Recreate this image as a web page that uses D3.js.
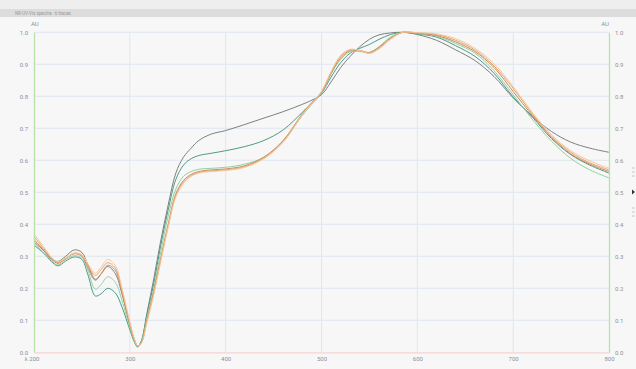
<!DOCTYPE html>
<html>
<head>
<meta charset="utf-8">
<script src="https://cdn.jsdelivr.net/npm/d3@7"></script>
<style>
  html, body { margin: 0; padding: 0; background: #f7f7f7; }
  svg { display: block; font-family: Roboto, "Open Sans", sans-serif; }
</style>
</head>
<body>
<svg id="chart" width="636" height="369"></svg>
<script>
// Wavelength grid (nm) shared by all spectra
const wavelengths = [200, 210, 218, 225, 233, 242, 250, 256, 264, 270, 277, 285, 292, 300, 305, 308, 312, 318, 325, 332, 340, 348, 356, 364, 372, 385, 400, 420, 440, 460, 480, 490, 500, 510, 520, 530, 540, 550, 560, 572, 585, 600, 620, 640, 660, 680, 700, 720, 740, 760, 780, 800];

// Normalised absorbance (AU) of each spectrum on that grid
const spectrumA = [0.345, 0.318, 0.292, 0.284, 0.300, 0.320, 0.312, 0.275, 0.228, 0.245, 0.268, 0.245, 0.180, 0.085, 0.035, 0.018, 0.035, 0.125, 0.230, 0.345, 0.460, 0.560, 0.610, 0.638, 0.662, 0.682, 0.693, 0.712, 0.732, 0.752, 0.775, 0.788, 0.805, 0.845, 0.890, 0.925, 0.955, 0.978, 0.992, 0.998, 1.000, 0.993, 0.975, 0.945, 0.912, 0.862, 0.795, 0.738, 0.690, 0.657, 0.638, 0.625];
const spectrumB = [0.335, 0.310, 0.284, 0.270, 0.285, 0.298, 0.290, 0.245, 0.176, 0.183, 0.200, 0.185, 0.140, 0.070, 0.030, 0.017, 0.035, 0.120, 0.215, 0.330, 0.445, 0.540, 0.585, 0.605, 0.615, 0.622, 0.630, 0.643, 0.662, 0.695, 0.750, 0.780, 0.810, 0.860, 0.905, 0.935, 0.950, 0.962, 0.978, 0.993, 1.000, 0.995, 0.985, 0.958, 0.925, 0.872, 0.798, 0.735, 0.668, 0.618, 0.585, 0.560];
const spectrumC = [0.340, 0.312, 0.287, 0.273, 0.290, 0.302, 0.294, 0.258, 0.197, 0.212, 0.236, 0.218, 0.160, 0.078, 0.033, 0.018, 0.032, 0.110, 0.200, 0.310, 0.425, 0.510, 0.550, 0.565, 0.572, 0.575, 0.578, 0.588, 0.610, 0.660, 0.740, 0.775, 0.810, 0.870, 0.915, 0.940, 0.940, 0.937, 0.955, 0.985, 1.000, 0.996, 0.988, 0.965, 0.935, 0.880, 0.805, 0.728, 0.660, 0.606, 0.570, 0.545];
const spectrumD = [0.362, 0.325, 0.295, 0.280, 0.293, 0.310, 0.303, 0.272, 0.240, 0.258, 0.280, 0.262, 0.190, 0.090, 0.038, 0.020, 0.030, 0.100, 0.185, 0.285, 0.395, 0.490, 0.532, 0.552, 0.562, 0.567, 0.570, 0.580, 0.608, 0.660, 0.745, 0.780, 0.815, 0.875, 0.925, 0.945, 0.942, 0.935, 0.950, 0.980, 1.000, 0.998, 0.993, 0.975, 0.945, 0.895, 0.825, 0.745, 0.675, 0.625, 0.592, 0.570];
const spectrumE = [0.370, 0.330, 0.298, 0.283, 0.295, 0.310, 0.305, 0.278, 0.247, 0.266, 0.290, 0.270, 0.198, 0.095, 0.040, 0.021, 0.028, 0.095, 0.180, 0.280, 0.390, 0.485, 0.528, 0.550, 0.560, 0.565, 0.568, 0.578, 0.605, 0.656, 0.742, 0.778, 0.815, 0.877, 0.928, 0.947, 0.943, 0.934, 0.948, 0.978, 1.000, 0.999, 0.995, 0.980, 0.950, 0.902, 0.830, 0.750, 0.680, 0.630, 0.598, 0.575];
const spectrumF = [0.352, 0.320, 0.292, 0.278, 0.293, 0.308, 0.300, 0.265, 0.225, 0.245, 0.272, 0.255, 0.185, 0.088, 0.037, 0.019, 0.030, 0.102, 0.190, 0.290, 0.400, 0.495, 0.537, 0.556, 0.565, 0.570, 0.573, 0.583, 0.610, 0.662, 0.745, 0.780, 0.812, 0.872, 0.920, 0.943, 0.943, 0.937, 0.953, 0.982, 1.000, 0.997, 0.990, 0.970, 0.940, 0.890, 0.815, 0.740, 0.672, 0.620, 0.588, 0.565];

const spectra = [spectrumA, spectrumB, spectrumC, spectrumF, spectrumD, spectrumE];
const spectrumColors = ["#7b817f", "#4f9985", "#8fd2a2", "#c98a5e", "#eba262", "#f4c6a0"];

// Axis ticks
const xTicks = [200, 300, 400, 500, 600, 700, 800];
const yTicks = [0, 0.1, 0.2, 0.3, 0.4, 0.5, 0.6, 0.7, 0.8, 0.9, 1.0];
const unitLabel = "AU";
const headerText = "NR UV-Vis spectra · 6 traces";

const W = 636, H = 369;
const plot = { left: 34, right: 609, top: 32.3, bottom: 352.3 };

const svg = d3.select("#chart");

// page background and header strip
svg.append("rect").attr("width", W).attr("height", H).attr("fill", "#f7f7f7");
svg.append("rect").attr("x", 0).attr("y", 0).attr("width", W).attr("height", 9).attr("fill", "#eeeeee");
svg.append("rect").attr("x", 0).attr("y", 9).attr("width", W).attr("height", 8).attr("fill", "#dcdcdc");
svg.append("text").attr("x", 15).attr("y", 14.5).attr("font-size", 4.5).attr("fill", "#9a9a9a")
  .text(headerText);

const x = d3.scaleLinear().domain([200, 800]).range([plot.left, plot.right]);
const y = d3.scaleLinear().domain([0, 1]).range([plot.bottom, plot.top]);

// grid
const grid = svg.append("g");
grid.selectAll("line.v").data(xTicks.slice(1, -1)).join("line")
  .attr("x1", d => x(d)).attr("x2", d => x(d))
  .attr("y1", plot.top).attr("y2", plot.bottom)
  .attr("stroke", "#dfe7ee").attr("stroke-width", 1);
grid.selectAll("line.h").data(yTicks.slice(1)).join("line")
  .attr("x1", plot.left).attr("x2", plot.right)
  .attr("y1", d => y(d)).attr("y2", d => y(d))
  .attr("stroke", "#dfe7ee").attr("stroke-width", 1);

// spectra
const line = d3.line()
  .x((d, i) => x(wavelengths[i]))
  .y(d => y(d))
  .curve(d3.curveCatmullRom.alpha(0.5));

svg.append("g").selectAll("path").data(spectra).join("path")
  .attr("d", line)
  .attr("fill", "none")
  .attr("stroke", (d, i) => spectrumColors[i])
  .attr("stroke-width", 1);

// axes
const fmt = d3.format(".1f");
const tickText = { fill: "#8a9099", size: 6 };

const leftAxis = svg.append("g").attr("transform", `translate(${plot.left},0)`)
  .call(d3.axisLeft(y).tickValues(yTicks).tickFormat(fmt).tickSize(0).tickPadding(6));
const rightAxis = svg.append("g").attr("transform", `translate(${plot.right},0)`)
  .call(d3.axisRight(y).tickValues(yTicks).tickFormat(fmt).tickSize(0).tickPadding(6));
const bottomAxis = svg.append("g").attr("transform", `translate(0,${plot.bottom})`)
  .call(d3.axisBottom(x).tickValues(xTicks).tickFormat(d => d === 200 ? "λ 200" : d).tickSize(0).tickPadding(4));

[leftAxis, rightAxis].forEach(g => g.select(".domain").attr("stroke", "#b9e2a8").attr("stroke-width", 1.3));
bottomAxis.select(".domain").attr("stroke", "#f6d4d4").attr("stroke-width", 1.3);
[leftAxis, rightAxis, bottomAxis].forEach(g => g.selectAll("text")
  .attr("fill", tickText.fill).attr("font-size", tickText.size).attr("font-family", "Roboto, sans-serif"));
bottomAxis.selectAll(".tick").filter(d => d === 200).select("text").attr("dx", -2.5);

// unit labels
svg.append("text").attr("x", plot.left - 3).attr("y", 26).attr("font-size", 6).attr("fill", tickText.fill).text(unitLabel);
svg.append("text").attr("x", plot.right).attr("y", 26).attr("text-anchor", "end").attr("font-size", 6).attr("fill", tickText.fill).text(unitLabel);

// collapsed side panel handle
const handle = svg.append("g").attr("transform", "translate(633,0)");
[168, 172, 176, 208, 212, 216].forEach(yy => handle.append("line")
  .attr("x1", -1).attr("x2", 1.5).attr("y1", yy).attr("y2", yy)
  .attr("stroke", "#c4c4c4").attr("stroke-width", 1));
handle.append("path").attr("d", "M-1,189.5 L2,192 L-1,194.5 Z").attr("fill", "#333");
</script>
</body>
</html>
